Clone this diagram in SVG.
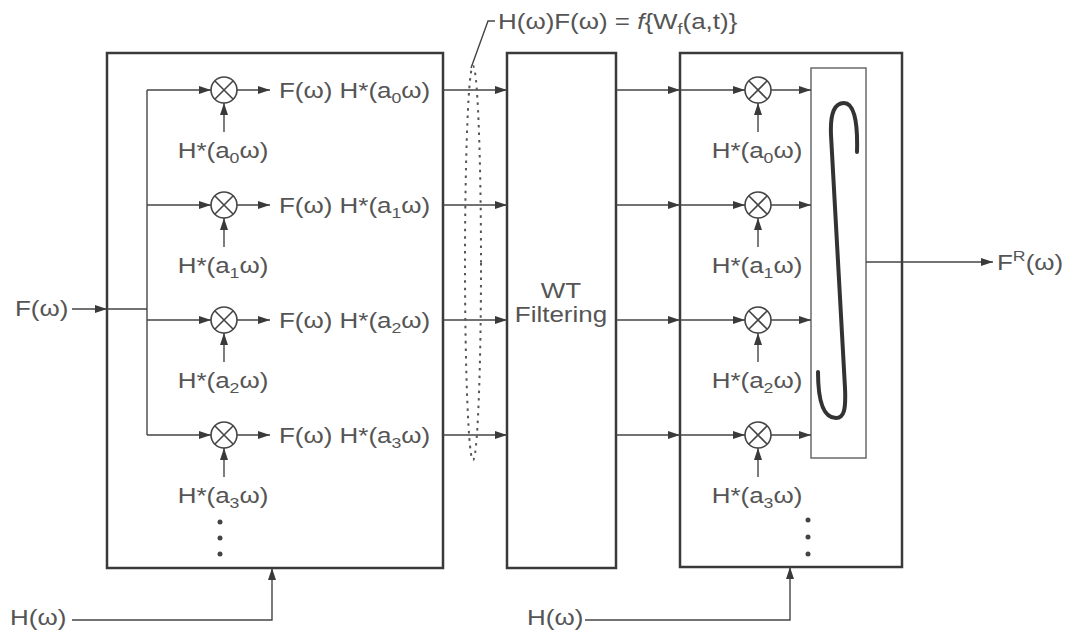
<svg xmlns="http://www.w3.org/2000/svg" xmlns:xlink="http://www.w3.org/1999/xlink" width="1073" height="632" viewBox="0 0 1073 632">
<style>
.box{fill:none;stroke:#3a3a3a;stroke-width:2.5}
.ibox{fill:none;stroke:#6a6a6a;stroke-width:1.5}
.ln{fill:none;stroke:#454545;stroke-width:1.4}
.ar{fill:none;stroke:#454545;stroke-width:1.4;marker-end:url(#ah)}
.t{font-family:"Liberation Sans",Arial,sans-serif;font-size:22px;fill:#555}
.sub{font-size:15px}
.m circle{fill:#fff;stroke:#454545;stroke-width:1.6}
.m path{stroke:#454545;stroke-width:1.6}
.dot{fill:#444}
</style>
<defs>
<marker id="ah" viewBox="0 0 12 8" refX="12" refY="4" markerWidth="12" markerHeight="8" markerUnits="userSpaceOnUse" orient="auto">
<path d="M0,0 L12,4 L0,8 Z" fill="#3a3a3a"/>
</marker>
<g id="mult" class="m"><circle r="13"/><path d="M-9,-9 L9,9 M9,-9 L-9,9"/></g>
</defs>
<rect width="1073" height="632" fill="#fff"/>

<g id="analysis-box">
<rect class="box" x="107" y="53" width="336" height="515"/>
</g>
<g id="wt-filter">
<rect class="box" x="507" y="53" width="109" height="515"/>
<text class="t" text-anchor="middle" transform="translate(561,298) scale(1.18,1)">WT</text>
<text class="t" text-anchor="middle" transform="translate(561,322) scale(1.18,1)">Filtering</text>
</g>
<g id="synthesis-box">
<rect class="box" x="680" y="53" width="222" height="514"/>
</g>
<g id="integrator">
<rect class="ibox" x="811" y="68" width="55" height="390"/>
<path d="M857,152 C858,118 853,103 844,103 C835,103 830,112 831,135 L845,388 C846,410 844,418 836,418 C825,418 818,405 818,372" fill="none" stroke="#333" stroke-width="4" stroke-linecap="round"/>
</g>

<g id="multipliers-left">
<use xlink:href="#mult" x="224" y="90"/>
<use xlink:href="#mult" x="224" y="205"/>
<use xlink:href="#mult" x="224" y="320"/>
<use xlink:href="#mult" x="224" y="435"/>
</g>
<g id="multipliers-right">
<use xlink:href="#mult" x="758" y="90"/>
<use xlink:href="#mult" x="758" y="205"/>
<use xlink:href="#mult" x="758" y="320"/>
<use xlink:href="#mult" x="758" y="435"/>
</g>

<g id="connectors">
<line class="ar" x1="72" y1="309" x2="107" y2="309"/>
<line class="ln" x1="107" y1="309" x2="147" y2="309"/>
<line class="ln" x1="147" y1="90" x2="147" y2="435"/>
<line class="ar" x1="147" y1="90" x2="211" y2="90"/>
<line class="ar" x1="147" y1="205" x2="211" y2="205"/>
<line class="ar" x1="147" y1="320" x2="211" y2="320"/>
<line class="ar" x1="147" y1="435" x2="211" y2="435"/>
<line class="ar" x1="237" y1="90" x2="270" y2="90"/>
<line class="ar" x1="237" y1="205" x2="270" y2="205"/>
<line class="ar" x1="237" y1="320" x2="270" y2="320"/>
<line class="ar" x1="237" y1="435" x2="270" y2="435"/>
<line class="ar" x1="224" y1="132" x2="224" y2="103"/>
<line class="ar" x1="224" y1="247" x2="224" y2="218"/>
<line class="ar" x1="224" y1="362" x2="224" y2="333"/>
<line class="ar" x1="224" y1="477" x2="224" y2="448"/>
<line class="ar" x1="443" y1="90" x2="507" y2="90"/>
<line class="ar" x1="443" y1="205" x2="507" y2="205"/>
<line class="ar" x1="443" y1="320" x2="507" y2="320"/>
<line class="ar" x1="443" y1="435" x2="507" y2="435"/>
<line class="ar" x1="616" y1="90" x2="680" y2="90"/>
<line class="ar" x1="616" y1="205" x2="680" y2="205"/>
<line class="ar" x1="616" y1="320" x2="680" y2="320"/>
<line class="ar" x1="616" y1="435" x2="680" y2="435"/>
<line class="ar" x1="680" y1="90" x2="745" y2="90"/>
<line class="ar" x1="680" y1="205" x2="745" y2="205"/>
<line class="ar" x1="680" y1="320" x2="745" y2="320"/>
<line class="ar" x1="680" y1="435" x2="745" y2="435"/>
<line class="ar" x1="771" y1="90" x2="811" y2="90"/>
<line class="ar" x1="771" y1="205" x2="811" y2="205"/>
<line class="ar" x1="771" y1="320" x2="811" y2="320"/>
<line class="ar" x1="771" y1="435" x2="811" y2="435"/>
<line class="ar" x1="758" y1="132" x2="758" y2="103"/>
<line class="ar" x1="758" y1="247" x2="758" y2="218"/>
<line class="ar" x1="758" y1="362" x2="758" y2="333"/>
<line class="ar" x1="758" y1="477" x2="758" y2="448"/>
<line class="ar" x1="866" y1="262" x2="993" y2="262"/>
<path class="ar" d="M72,620 L272,620 L272,568"/>
<path class="ar" d="M585,620 L790,620 L790,567"/>
<ellipse cx="473" cy="263" rx="8" ry="197" fill="none" stroke="#555" stroke-width="2" stroke-dasharray="2.5,5"/>
<path class="ln" d="M471,68 L488,21 L495,21" stroke-width="1.2"/>
</g>

<g id="labels-left">
<text class="t" transform="translate(15,316) scale(1.18,1)">F(ω)</text>
<text class="t" transform="translate(279,98) scale(1.18,1)">F(ω) H*(a<tspan class="sub" dy="5">0</tspan><tspan dy="-5">ω)</tspan></text>
<text class="t" transform="translate(279,213) scale(1.18,1)">F(ω) H*(a<tspan class="sub" dy="5">1</tspan><tspan dy="-5">ω)</tspan></text>
<text class="t" transform="translate(279,328) scale(1.18,1)">F(ω) H*(a<tspan class="sub" dy="5">2</tspan><tspan dy="-5">ω)</tspan></text>
<text class="t" transform="translate(279,443) scale(1.18,1)">F(ω) H*(a<tspan class="sub" dy="5">3</tspan><tspan dy="-5">ω)</tspan></text>
<text class="t" text-anchor="middle" transform="translate(223,158) scale(1.18,1)">H*(a<tspan class="sub" dy="5">0</tspan><tspan dy="-5">ω)</tspan></text>
<text class="t" text-anchor="middle" transform="translate(223,273) scale(1.18,1)">H*(a<tspan class="sub" dy="5">1</tspan><tspan dy="-5">ω)</tspan></text>
<text class="t" text-anchor="middle" transform="translate(223,388) scale(1.18,1)">H*(a<tspan class="sub" dy="5">2</tspan><tspan dy="-5">ω)</tspan></text>
<text class="t" text-anchor="middle" transform="translate(223,503) scale(1.18,1)">H*(a<tspan class="sub" dy="5">3</tspan><tspan dy="-5">ω)</tspan></text>
<circle class="dot" cx="220" cy="522" r="2.5"/>
<circle class="dot" cx="220" cy="538" r="2.5"/>
<circle class="dot" cx="220" cy="554" r="2.5"/>
<text class="t" transform="translate(10,625) scale(1.18,1)">H(ω)</text>
</g>

<g id="labels-right">
<text class="t" text-anchor="middle" transform="translate(757,158) scale(1.18,1)">H*(a<tspan class="sub" dy="5">0</tspan><tspan dy="-5">ω)</tspan></text>
<text class="t" text-anchor="middle" transform="translate(757,273) scale(1.18,1)">H*(a<tspan class="sub" dy="5">1</tspan><tspan dy="-5">ω)</tspan></text>
<text class="t" text-anchor="middle" transform="translate(757,388) scale(1.18,1)">H*(a<tspan class="sub" dy="5">2</tspan><tspan dy="-5">ω)</tspan></text>
<text class="t" text-anchor="middle" transform="translate(757,503) scale(1.18,1)">H*(a<tspan class="sub" dy="5">3</tspan><tspan dy="-5">ω)</tspan></text>
<circle class="dot" cx="808" cy="520" r="2.5"/>
<circle class="dot" cx="808" cy="537" r="2.5"/>
<circle class="dot" cx="808" cy="554" r="2.5"/>
<text class="t" transform="translate(527,625) scale(1.18,1)">H(ω)</text>
<text class="t" transform="translate(997,270) scale(1.18,1)">F<tspan class="sub" dy="-9">R</tspan><tspan dy="9">(ω)</tspan></text>
</g>

<g id="title">
<text class="t" transform="translate(498,29) scale(1.18,1)">H(ω)F(ω) = <tspan font-style="italic">f</tspan>{W<tspan class="sub" dy="5">f</tspan><tspan dy="-5">(a,t)}</tspan></text>
</g>
</svg>
